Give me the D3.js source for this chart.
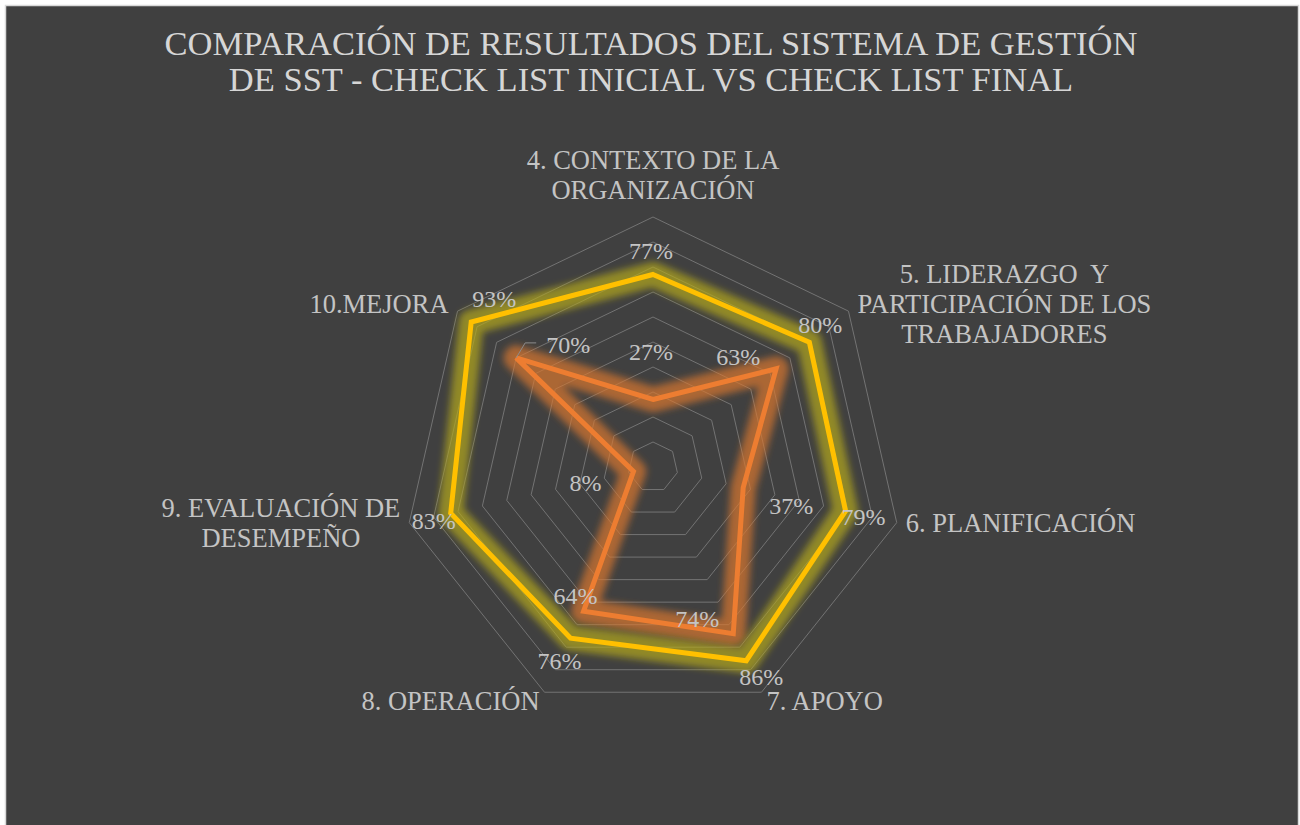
<!DOCTYPE html>
<html lang="es">
<head>
  <meta charset="UTF-8">
  <title>Radar SST</title>
  <style>
    body { margin: 0; background: #fff; }
    text { font-family: "Liberation Serif", "Times New Roman", serif; white-space: pre; }
  </style>
</head>
<body>
  <svg width=1300 height=825 id="viz"></svg>

  <script src="https://cdn.jsdelivr.net/npm/d3@7"></script>
  <script>
/* global d3 */

// data
let titleLines = ["COMPARACIÓN DE RESULTADOS DEL SISTEMA DE GESTIÓN", "DE SST - CHECK LIST INICIAL VS CHECK LIST FINAL"];
let categories = [
  ["4. CONTEXTO DE LA", "ORGANIZACIÓN"],
  ["5. LIDERAZGO  Y", "PARTICIPACIÓN DE LOS", "TRABAJADORES"],
  ["6. PLANIFICACIÓN"],
  ["7. APOYO"],
  ["8. OPERACIÓN"],
  ["9. EVALUACIÓN DE", "DESEMPEÑO"],
  ["10.MEJORA"]
];
let inicial = [0.27, 0.63, 0.37, 0.74, 0.64, 0.08, 0.70];
let final = [0.77, 0.80, 0.79, 0.86, 0.76, 0.83, 0.93];
let gridTicks = [0.1, 0.2, 0.3, 0.4, 0.5, 0.6, 0.7, 0.8, 0.9, 1.0];

// label nudges (px, from the point)
let inicialLabelNudge = [[-2, -48], [-38, -12], [48, 18], [-36, -15], [-8, -15], [-48, 12], [52, -13]];
let finalLabelNudge = [[-2, -24], [11, -17], [18, 6], [15, 16], [-11, 23], [-17, 8], [23, -23]];

let svg = d3.select("#viz"),
  cx = 653, cy = 467,
  labelColor = "#c4c4c4";

svg.append("rect")
  .attr("x", 5.5).attr("y", 5.5)
  .attr("width", 1293).attr("height", 830)
  .attr("fill", "#404040")
  .attr("stroke", "#d9d9d9")
  .attr("stroke-width", 1.5);

// glow filter
let defs = svg.append("defs");
defs.append("filter").attr("id", "glow")
  .attr("x", "-20%").attr("y", "-20%").attr("width", "140%").attr("height", "140%")
  .append("feGaussianBlur").attr("stdDeviation", 3.5);

svg.append("g").selectAll("text")
  .data(titleLines)
  .enter().append("text")
  .attr("x", 651)
  .attr("y", (d, i) => 55 + i * 36)
  .attr("text-anchor", "middle")
  .attr("font-size", 34.5)
  .attr("fill", "#d6d6d6")
  .text(d => d);

let r = d3.scaleLinear().domain([0, 1]).range([0, 250]);
let angle = d3.scalePoint().domain(d3.range(categories.length)).range([0, 2 * Math.PI * (categories.length - 1) / categories.length]);

let g = svg.append("g").attr("transform", "translate(" + cx + "," + cy + ")");

// grid heptagons
let gridLine = d3.lineRadial()
  .angle((d, i) => angle(i))
  .radius(d => r(d))
  .curve(d3.curveLinearClosed);

g.append("g").selectAll("path")
  .data(gridTicks)
  .enter().append("path")
  .attr("d", t => gridLine(categories.map(() => t)))
  .attr("fill", "none")
  .attr("stroke", "#737373")
  .attr("stroke-width", 1);

// series
let series = [
  {values: inicial, color: "#ED7D31", glow: "#D9762F", nudge: inicialLabelNudge},
  {values: final, color: "#FFC000", glow: "#B4A81E", nudge: finalLabelNudge}
];

series.forEach(s => {
  g.append("path")
    .attr("d", gridLine(s.values))
    .attr("fill", "none")
    .attr("stroke", s.glow)
    .attr("stroke-opacity", 0.7)
    .attr("stroke-width", 25)
    .attr("stroke-linejoin", "round")
    .attr("filter", "url(#glow)");
});

series.forEach(s => {
  g.append("path")
    .attr("d", gridLine(s.values))
    .attr("fill", "none")
    .attr("stroke", s.color)
    .attr("stroke-width", 5)
    .attr("stroke-linejoin", "miter");
});

// data labels
series.forEach(s => {
  g.append("g").selectAll("text")
    .data(s.values)
    .enter().append("text")
    .attr("x", (d, i) => d3.pointRadial(angle(i), r(d))[0] + s.nudge[i][0])
    .attr("y", (d, i) => d3.pointRadial(angle(i), r(d))[1] + s.nudge[i][1] + 8)
    .attr("text-anchor", "middle")
    .attr("font-size", 24)
    .attr("fill", labelColor)
    .text(d => Math.round(d * 100) + "%");
});

// leader line for the 70% label
let p70 = d3.pointRadial(angle(6), r(inicial[6]));
g.append("path")
  .attr("d", d3.line()([[p70[0] + 20, p70[1] - 15], [p70[0] + 9, p70[1] - 15], p70]))
  .attr("fill", "none")
  .attr("stroke", "#8c8c8c")
  .attr("stroke-width", 1);

// category labels
let lineH = 30, capH = 18;
categories.forEach((lines, k) => {
  let a = angle(k),
    v = d3.pointRadial(a, r(1)),
    sn = Math.sin(a), cs = Math.cos(a);

  let t = g.append("g");
  let texts = t.selectAll("text")
    .data(lines)
    .enter().append("text")
    .attr("text-anchor", "middle")
    .attr("font-size", 26.5)
    .attr("fill", labelColor)
    .text(d => d);

  let w = d3.max(texts.nodes(), n => n.getComputedTextLength());
  let n = lines.length;

  let x;
  if (Math.abs(sn) < 0.1) x = v[0];
  else {
    let pad = cs < -0.5 ? 5 : 9;
    x = sn > 0 ? v[0] + pad + w / 2 : v[0] - pad - w / 2;
  }

  let firstBase;
  if (cs > 0.9) firstBase = v[1] - 18 - (n - 1) * lineH;
  else if (cs < -0.5) firstBase = v[1] + capH;
  else {
    let mid = v[1] + (cs > 0 ? -7 : 0);
    firstBase = mid + (capH - (n - 1) * lineH) / 2;
  }

  texts.attr("x", x).attr("y", (d, i) => firstBase + i * lineH);
});
  </script>
</body>
</html>
